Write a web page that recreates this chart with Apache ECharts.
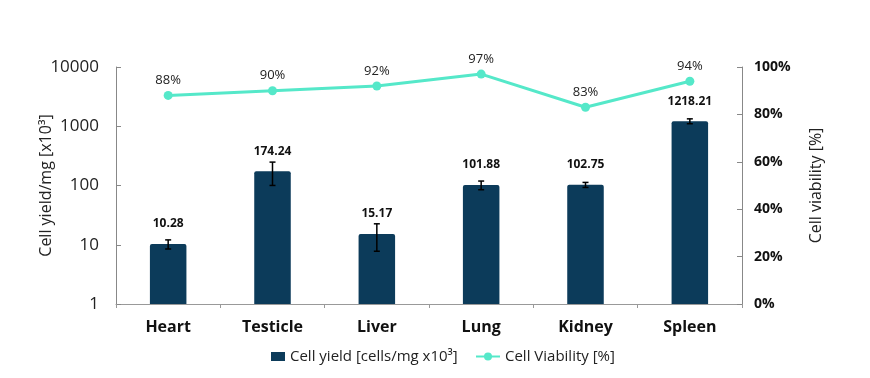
<!DOCTYPE html>
<html><head><meta charset="utf-8">
<script src="https://cdn.jsdelivr.net/npm/echarts@6/dist/echarts.min.js"></script>
<style>html,body{margin:0;padding:0;background:#fff}#c{width:870px;height:378px}</style>
</head><body><div id="c"></div>
<script>
const categories = ['Heart','Testicle','Liver','Lung','Kidney','Spleen'];
const cellYield = [10.28, 174.24, 15.17, 101.88, 102.75, 1218.21];
const yieldError = [1.8, 74, 7.4, 17, 10, 115];
const viability = [88, 90, 92, 97, 83, 94];
const leftTicks = [1, 10, 100, 1000, 10000];
const rightTicks = [0, 20, 40, 60, 80, 100];

const FONT = '"Open Sans", "Noto Sans", sans-serif';
const BAR = '#0c3b5a';
const LINE = '#55e8c9';
const chart = echarts.init(document.getElementById('c'));
chart.setOption({
  animation: false,
  textStyle: {fontFamily: FONT},
  grid: {left: 116, right: 128, top: 67, bottom: 74},
  legend: [{
    left: 266, top: 344, itemWidth: 14, itemHeight: 9, itemGap: 10,
    textStyle: {fontFamily: FONT, fontSize: 15, color: '#222'},
    data: [{name: 'Cell yield [cells/mg x10³]', icon: 'rect'}]
  }, {
    left: 470, top: 344, itemWidth: 24, itemHeight: 10,
    textStyle: {fontFamily: FONT, fontSize: 15, color: '#222'},
    data: ['Cell Viability [%]']
  }],
  xAxis: {
    type: 'category', data: categories,
    axisLine: {lineStyle: {color: '#999'}},
    axisTick: {show: true, length: 4, lineStyle: {color: '#999'}},
    axisLabel: {fontFamily: FONT, fontSize: 16, fontWeight: 'bold', color: '#111', margin: 15}
  },
  yAxis: [{
    type: 'log', logBase: 10, min: 1, max: 10000,
    name: 'Cell yield/mg [x10³]', nameLocation: 'middle', nameGap: 62, nameMoveOverlap: false,
    nameTextStyle: {fontFamily: FONT, fontSize: 16, color: '#222'},
    axisLine: {show: true, lineStyle: {color: '#888'}},
    axisTick: {show: true, inside: true, length: 5, lineStyle: {color: '#888'}},
    splitLine: {show: false},
    axisLabel: {fontFamily: FONT, fontSize: 17, color: '#222', margin: 17,
      customValues: leftTicks, formatter: v => String(Math.round(v))}
  }, {
    type: 'value', min: 0, max: 100, interval: 20, position: 'right',
    name: 'Cell viability [%]', nameLocation: 'middle', nameGap: 66, nameRotate: 90,
    nameTextStyle: {fontFamily: FONT, fontSize: 16, color: '#222'},
    axisLine: {show: true, lineStyle: {color: '#888'}},
    axisTick: {show: true, inside: true, length: 5, lineStyle: {color: '#888'}},
    splitLine: {show: false},
    axisLabel: {fontFamily: FONT, fontSize: 14, fontWeight: 'bold', color: '#111', margin: 12,
      formatter: v => rightTicks.includes(v) ? v + '%' : ''}
  }],
  series: [{
    name: 'Cell yield [cells/mg x10³]', type: 'bar', data: cellYield, barWidth: '35%',
    itemStyle: {color: BAR, borderRadius: [2,2,0,0]},
    label: {show: true, position: 'top', distance: 14, fontFamily: FONT, fontSize: 12,
      fontWeight: 'bold', color: '#111', formatter: p => p.value.toFixed(2)},
    z: 2
  }, {
    name: 'errors', type: 'custom', z: 5,
    data: cellYield.map((v, i) => [i, v - yieldError[i], v + yieldError[i]]),
    renderItem: function (params, api) {
      const lo = api.coord([api.value(0), api.value(1)]);
      const hi = api.coord([api.value(0), api.value(2)]);
      const w = 3;
      const st = {stroke: '#000', lineWidth: 1.5};
      return {type: 'group', children: [
        {type: 'line', shape: {x1: hi[0], y1: hi[1], x2: lo[0], y2: lo[1]}, style: st},
        {type: 'line', shape: {x1: hi[0]-w, y1: hi[1], x2: hi[0]+w, y2: hi[1]}, style: st},
        {type: 'line', shape: {x1: lo[0]-w, y1: lo[1], x2: lo[0]+w, y2: lo[1]}, style: st}
      ]};
    }
  }, {
    name: 'Cell Viability [%]', type: 'line', yAxisIndex: 1, data: viability,
    symbol: 'circle', symbolSize: 9,
    lineStyle: {color: LINE, width: 3}, itemStyle: {color: LINE},
    label: {show: true, position: 'top', distance: 4, fontFamily: FONT, fontSize: 13,
      color: '#222', formatter: '{c}%'},
    z: 6
  }]
});
</script></body></html>
